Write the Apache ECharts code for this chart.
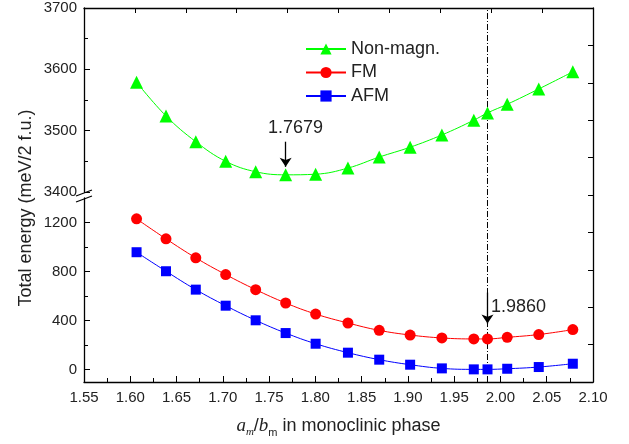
<!DOCTYPE html>
<html>
<head>
<meta charset="utf-8">
<script src="https://cdn.jsdelivr.net/npm/echarts@6/dist/echarts.min.js"></script>
<style>
  html, body { margin: 0; padding: 0; background: #fff; }
  #main { width: 629px; height: 444px; }
</style>
</head>
<body>
<div id="main"></div>
<script>
// a_m/b_m ratio
var ratio = [1.6068, 1.6386, 1.6708, 1.7031, 1.7355, 1.7679, 1.8003, 1.8352, 1.8690, 1.9024, 1.9367, 1.9712, 1.9860, 2.0073, 2.0414, 2.0782];
// total energy, meV/2 f.u.
var nonMagn = [3579, 3524, 3482, 3450, 3433, 3428, 3429, 3439, 3457, 3473, 3493, 3517, 3529, 3543, 3568, 3596];
var fm = [1230, 1067, 912, 776, 653, 544, 454, 381, 321, 283, 259, 251, 251, 264, 287, 327];
var afm = [958, 803, 653, 522, 403, 299, 212, 139, 82, 41, 11, 3, 3, 8, 22, 49];
// lower axis ticks
var lowTicks = [0, 400, 800, 1200];
var lowMinor = [200, 600, 1000];
// minima
var minNonMagn = 1.7679;
var minMagn = 1.9860;

var font = 'Liberation Sans';
var txt = '#222';

function pairs(arr) {
  return ratio.map(function (x, i) { return [x, arr[i]]; });
}

var chart = echarts.init(document.getElementById('main'));

var line = { onZero: false, lineStyle: { color: '#000', width: 1.3 } };
var tick = { inside: true, length: 6, lineStyle: { color: '#000' } };
var minor = { show: true, splitNumber: 2, length: 4, lineStyle: { color: '#000' } };
var lbl = { fontSize: 15, color: txt, fontFamily: font, formatter: function (v) { return String(v); } };

var option = {
  backgroundColor: '#fff',
  animation: false,
  grid: [
    { left: 84, right: 36, top: 8, height: 184 },
    { left: 84, right: 36, top: 198, height: 184 },
    { left: 84, right: 36, top: 8, height: 374 }
  ],
  legend: {
    data: ['Non-magn.', 'FM', 'AFM'],
    orient: 'vertical',
    left: 305,
    top: 40,
    padding: 0,
    itemWidth: 40,
    itemHeight: 14,
    itemGap: 5.5,
    textStyle: { fontSize: 18, color: txt, fontFamily: font }
  },
  xAxis: [
    { gridIndex: 0, type: 'value', min: 1.55, max: 2.10, show: false },
    {
      gridIndex: 1, type: 'value', min: 1.55, max: 2.10, interval: 0.05,
      axisLine: line, axisTick: tick, minorTick: minor,
      splitLine: { show: false },
      axisLabel: Object.assign({}, lbl, { margin: 8, formatter: function (v) { return v.toFixed(2); } }),
      name: '{ai|a}{si|m}{sl|/}{ai|b}{sn|m}{tx| in monoclinic phase}',
      nameLocation: 'middle',
      nameGap: 32,
      nameTextStyle: {
        rich: {
          ai: { fontFamily: 'Liberation Serif', fontStyle: 'italic', fontSize: 19, color: txt, lineHeight: 24, verticalAlign: 'middle' },
          si: { fontFamily: 'Liberation Serif', fontStyle: 'italic', fontSize: 11, color: txt, lineHeight: 11, verticalAlign: 'bottom' },
          sl: { fontFamily: font, fontSize: 18, color: txt, lineHeight: 24, verticalAlign: 'middle' },
          sn: { fontFamily: font, fontSize: 11, color: txt, lineHeight: 11, verticalAlign: 'bottom' },
          tx: { fontFamily: font, fontSize: 18, color: txt, lineHeight: 24, verticalAlign: 'middle' }
        }
      }
    },
    {
      gridIndex: 2, type: 'value', position: 'top', min: 0, max: 10, interval: 1,
      axisLine: line, axisTick: { inside: true, length: 5, lineStyle: { color: '#000' } },
      axisLabel: { show: false }, splitLine: { show: false }
    },
    { gridIndex: 2, type: 'value', min: 1.55, max: 2.10, show: false }
  ],
  yAxis: [
    {
      gridIndex: 0, type: 'value', position: 'left', min: 3400, max: 3700, interval: 100,
      axisLine: line, axisTick: tick, minorTick: minor,
      splitLine: { show: false },
      axisLabel: Object.assign({ margin: 7 }, lbl)
    },
    {
      gridIndex: 1, type: 'value', position: 'left', min: -100, max: 1400,
      axisLine: line,
      axisTick: { inside: true, length: 6, lineStyle: { color: '#000' }, customValues: lowTicks },
      splitLine: { show: false },
      axisLabel: Object.assign({ margin: 7, customValues: lowTicks }, lbl)
    },
    {
      gridIndex: 1, type: 'value', position: 'left', min: -100, max: 1400,
      axisLine: { show: false },
      axisTick: { inside: true, length: 4, lineStyle: { color: '#000' }, customValues: lowMinor },
      splitLine: { show: false },
      axisLabel: { show: false, customValues: lowMinor }
    },
    {
      gridIndex: 2, type: 'value', position: 'right', min: 0, max: 10, interval: 1,
      axisLine: line, axisTick: { inside: true, length: 5, lineStyle: { color: '#000' } },
      axisLabel: { show: false }, splitLine: { show: false }
    }
  ],
  series: [
    {
      name: 'Non-magn.', type: 'line', xAxisIndex: 0, yAxisIndex: 0,
      data: pairs(nonMagn), smooth: 0.4,
      symbol: 'triangle', symbolSize: 13,
      lineStyle: { color: '#00ff00', width: 1 },
      itemStyle: { color: '#00ff00' },
      markLine: {
        silent: true, symbol: ['none', 'arrow'], symbolSize: 9,
        label: { show: false },
        lineStyle: { color: '#000', type: 'solid', width: 1.3 },
        data: [[{ coord: [minNonMagn, 3482] }, { coord: [minNonMagn, 3441] }]]
      },
      markPoint: {
        silent: true, symbolSize: 0,
        label: { show: true, formatter: minNonMagn.toFixed(4), fontSize: 18, color: txt, fontFamily: font },
        data: [{ coord: [1.7785, 3505] }]
      }
    },
    {
      name: 'FM', type: 'line', xAxisIndex: 1, yAxisIndex: 1,
      data: pairs(fm), smooth: 0.4,
      symbol: 'circle', symbolSize: 11,
      lineStyle: { color: '#ff0000', width: 1 },
      itemStyle: { color: '#ff0000' },
      markLine: {
        silent: true, symbol: ['none', 'arrow'], symbolSize: 9,
        label: { show: false },
        lineStyle: { color: '#000', type: 'solid', width: 1.3 },
        data: [[{ coord: [minMagn, 629] }, { coord: [minMagn, 376] }]]
      },
      markPoint: {
        silent: true, symbolSize: 0,
        label: { show: true, formatter: minMagn.toFixed(4), fontSize: 18, color: txt, fontFamily: font },
        data: [{ coord: [2.0195, 514] }]
      }
    },
    {
      name: 'AFM', type: 'line', xAxisIndex: 1, yAxisIndex: 1,
      data: pairs(afm), smooth: 0.4,
      symbol: 'rect', symbolSize: 10,
      lineStyle: { color: '#0000ff', width: 1 },
      itemStyle: { color: '#0000ff' }
    },
    {
      name: 'guide', type: 'line', xAxisIndex: 3, yAxisIndex: 3,
      data: [[minMagn, 0], [minMagn, 10]],
      symbol: 'none', silent: true,
      lineStyle: { color: '#000', type: [6, 2, 1, 2], width: 1 },
      z: 1
    }
  ],
  graphic: [
    { type: 'line', shape: { x1: 76, y1: 196, x2: 92, y2: 190 }, style: { stroke: '#000', lineWidth: 1.2 } },
    { type: 'line', shape: { x1: 76, y1: 202, x2: 92, y2: 196 }, style: { stroke: '#000', lineWidth: 1.2 } },
    {
      type: 'text', x: 26, y: 208, rotation: Math.PI / 2,
      style: {
        text: 'Total energy (meV/2 f.u.)', fontSize: 18, fontFamily: font, fill: txt,
        textAlign: 'center', textVerticalAlign: 'middle'
      }
    }
  ]
};

chart.setOption(option);
</script>
</body>
</html>
